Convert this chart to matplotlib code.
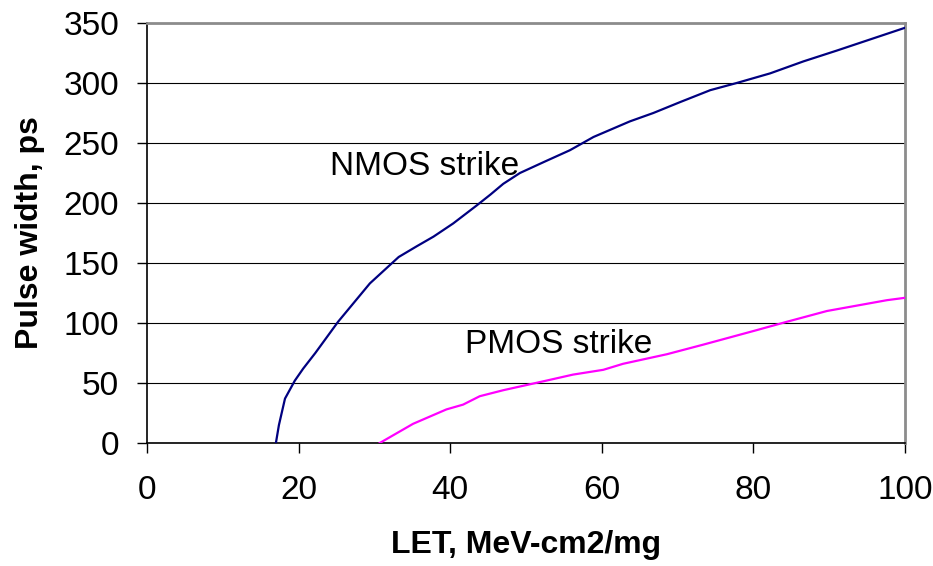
import numpy as np
import matplotlib
matplotlib.use("Agg")
import matplotlib.pyplot as plt

plt.rcParams["font.family"] = ["Liberation Sans", "DejaVu Sans"]

# NMOS strike curve (LET, pulse width)
nmos_let = [17.0, 17.4, 18.2, 19.5, 20.6, 22.2, 25.2, 29.4, 33.2, 35.6, 37.8,
            40.4, 43.5, 45.3, 47.0, 49.2, 52.3, 55.8, 58.9, 63.7, 66.8,
            70.3, 74.3, 77.8, 82.2, 86.6, 91.0, 100.0]
nmos_pw = [0, 15, 37, 52, 62, 75, 101, 133, 155, 164, 172,
           183, 198, 207, 216, 225, 234, 244, 255, 268, 275,
           284, 294, 300, 308, 318, 327, 346]

# PMOS strike curve
pmos_let = [30.7, 35.1, 39.5, 41.7, 43.9, 47.0, 52.7, 56.2, 60.2, 62.8,
            68.6, 73.4, 80.4, 84.4, 89.7, 97.6, 100.0]
pmos_pw = [0, 16, 28, 32, 39, 44, 52, 57, 61, 66,
           74, 82, 94, 101, 110, 119, 121]

x_ticks = [0, 20, 40, 60, 80, 100]
y_ticks = [0, 50, 100, 150, 200, 250, 300, 350]

fig = plt.figure(figsize=(9.33, 5.66), dpi=100)
ax = fig.add_axes([0.1576, 0.2173, 0.8124, 0.7421])

ax.plot(nmos_let, nmos_pw, color="#000080", lw=1.6, zorder=3)
ax.plot(pmos_let, pmos_pw, color="#FF00FF", lw=1.6, zorder=3)

ax.set_xlim(0, 100)
ax.set_ylim(0, 350)
ax.set_xticks(x_ticks)
ax.set_yticks(y_ticks)
ax.yaxis.grid(True, color="black", lw=0.8)
ax.set_axisbelow(True)

for side in ["top", "right"]:
    ax.spines[side].set_color("#8c8c8c")
    ax.spines[side].set_linewidth(2)
for side in ["left", "bottom"]:
    ax.spines[side].set_color("black")
    ax.spines[side].set_linewidth(1.2)

ax.tick_params(axis="both", direction="out", length=7, width=1, labelsize=24)
ax.tick_params(axis="x", pad=16)
ax.tick_params(axis="y", pad=13)

ax.set_xlabel("LET, MeV-cm2/mg", fontsize=23, fontweight="bold", labelpad=17)
ax.set_ylabel("Pulse width, ps", fontsize=23, fontweight="bold", labelpad=13)

ax.text(24.1, 223, "NMOS strike", fontsize=24, ha="left", va="baseline")
ax.text(42.0, 74.7, "PMOS strike", fontsize=24, ha="left", va="baseline")

fig.savefig("out.png", dpi=100)
